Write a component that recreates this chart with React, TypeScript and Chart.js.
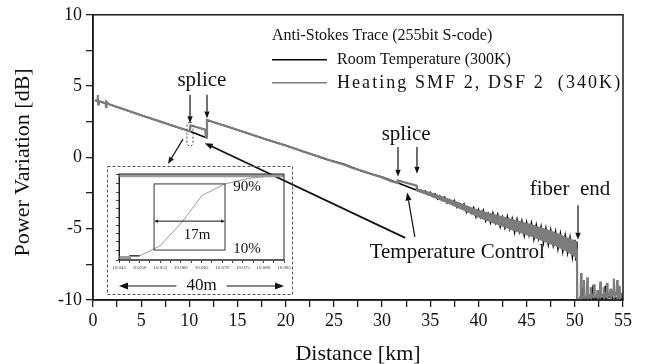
import React, { useEffect, useRef } from "react";
import { Chart, registerables } from "chart.js";

Chart.register(...registerables);

const SERIF = '"Liberation Serif", "Times New Roman", "DejaVu Serif", serif';

// ---------------- data ----------------
const legendTitle = "Anti-Stokes Trace (255bit S-code)";
const roomLabel = "Room Temperature (300K)";
const heatLabel = "Heating SMF 2, DSF 2  (340K)";

// Heating SMF 2, DSF 2 (340K): [distance km, power dB]
const heatTrace: [number, number][] = [
  [0.2, 4.0], [0.45, 3.98], [0.5, 4.38], [0.53, 3.72], [0.6, 3.95], [1.0, 3.86], [1.3, 3.8], [1.35, 3.52],
  [1.4, 3.9], [1.6, 3.74], [3, 3.42], [5, 2.96], [7, 2.51], [9, 2.06], [10.06, 1.83], [10.1, 2.25],
  [11.65, 1.95], [11.7, 1.45], [11.8, 1.4], [11.83, 2.62], [14, 2.15], [16, 1.7], [18, 1.25], [20, 0.83],
  [22, 0.37], [24, -0.06], [25, -0.3], [26, -0.5], [27, -0.76], [28, -0.95], [29, -1.2], [30, -1.4],
  [31, -1.68], [31.6, -1.78], [31.63, -1.62], [33.58, -1.98], [33.62, -2.3],
  [38, -3.38], [42, -4.39], [46, -5.25], [50.22, -6.5], [50.25, -10],
  [50.6, -9.9], [50.65, -8.1], [50.7, -9.9], [50.9, -9.8], [50.95, -8.6], [51.0, -9.85], [51.25, -9.8],
  [51.3, -8.4], [51.35, -9.9], [51.6, -9.7], [51.65, -9.1], [51.7, -9.9], [51.95, -9.6], [52.0, -8.9],
  [52.05, -9.8], [52.3, -9.7], [52.35, -9.3], [52.4, -9.9], [52.6, -9.5], [52.65, -8.7], [52.7, -9.8],
  [52.95, -9.6], [53.0, -9.1], [53.05, -9.9], [53.3, -9.4], [53.35, -8.8], [53.4, -9.8], [53.65, -9.5],
  [53.7, -9.2], [53.75, -9.9], [54.0, -9.3], [54.05, -8.5], [54.1, -9.8], [54.35, -9.4], [54.4, -8.6],
  [54.45, -9.85], [54.6, -9.5], [54.65, -9.0], [54.7, -9.9], [54.9, -9.6], [55, -9.9],
];

// noise spread of the heating trace beyond 34 km: upper / lower edge
const heatBandKm = [
  33.62, 34.0, 34.5, 35.0, 35.5, 36.0, 36.5, 37.0, 37.5, 38.0, 38.5, 39.0, 39.5, 40.0, 40.5, 41.0, 41.5, 42.0,
  42.5, 43.0, 43.5, 44.0, 44.5, 45.0, 45.5, 46.0, 46.5, 47.0, 47.5, 48.0, 48.5, 49.0, 49.5, 50.0, 50.22,
];
const heatBandUpper = [
  -2.22, -2.26, -2.36, -2.47, -2.57, -2.7, -2.81, -2.95, -3.05, -3.2, -3.32, -3.47, -3.58, -3.7, -3.79, -3.91,
  -3.98, -4.08, -4.15, -4.28, -4.34, -4.45, -4.53, -4.63, -4.7, -4.85, -4.93, -5.06, -5.15, -5.3, -5.42, -5.6,
  -5.7, -5.86, -5.95,
];
const heatBandLower = [
  -2.38, -2.43, -2.56, -2.69, -2.83, -2.98, -3.11, -3.25, -3.41, -3.57, -3.71, -3.87, -4.03, -4.2, -4.33, -4.45,
  -4.59, -4.7, -4.83, -4.95, -5.09, -5.2, -5.31, -5.43, -5.53, -5.67, -5.8, -5.93, -6.07, -6.2, -6.37, -6.52,
  -6.73, -6.95, -7.12,
];

// Room Temperature (300K): [distance km, power dB]
const roomTrace: [number, number][] = [
  [0.2, 4.0], [0.5, 3.95], [1.4, 3.78], [3, 3.42], [5, 2.96], [7, 2.51], [9, 2.06], [10.06, 1.83],
  [11.76, 1.38], [11.8, 2.62], [14, 2.15], [16, 1.7], [18, 1.25], [20, 0.83], [22, 0.37], [24, -0.1],
  [26, -0.46], [28, -0.99], [30, -1.37], [31.6, -1.78], [33.6, -2.3],
  [34.0, -2.3], [34.25, -2.45], [34.5, -2.36], [34.75, -2.6], [35.0, -2.44], [35.25, -2.72], [35.5, -2.55],
  [35.75, -2.93], [36.0, -2.72], [36.25, -3.02], [36.5, -2.78], [36.75, -3.2], [37.0, -2.98], [37.25, -3.28],
  [37.5, -3.02], [37.75, -3.5], [38.0, -3.25], [38.25, -3.58], [38.5, -3.27], [38.75, -3.85], [39.0, -3.5],
  [39.25, -3.9], [39.5, -3.52], [39.75, -4.18], [40.0, -3.66], [40.25, -4.2], [40.5, -3.72], [40.75, -4.46],
  [41.0, -3.95], [41.25, -4.58], [41.5, -3.9], [41.75, -4.6], [42.0, -4.0], [42.25, -4.85], [42.5, -4.2],
  [42.75, -4.95], [43.0, -4.15], [43.25, -5.0], [43.5, -4.3], [43.75, -5.25], [44.0, -4.35], [44.25, -5.2],
  [44.5, -4.45], [44.75, -5.48], [45.0, -4.55], [45.25, -5.45], [45.5, -4.6], [45.75, -5.72], [46.0, -4.75],
  [46.25, -5.7], [46.5, -4.85], [46.75, -6.0], [47.0, -4.98], [47.25, -6.1], [47.5, -5.08], [47.75, -6.15],
  [48.0, -5.2], [48.25, -6.42], [48.5, -5.35], [48.75, -6.6], [49.0, -5.48], [49.25, -6.7], [49.5, -5.62],
  [49.75, -7.0], [50.0, -5.78], [50.12, -7.25], [50.22, -5.9], [50.25, -10],
  [50.5, -9.95], [50.8, -9.3], [50.85, -9.95], [51.5, -9.9], [51.8, -9.2], [51.85, -9.95], [52.5, -9.8],
  [52.55, -9.4], [52.6, -9.95], [53.1, -9.8], [53.15, -9.0], [53.2, -9.95], [53.8, -9.7], [53.85, -9.3],
  [53.9, -9.95], [54.5, -9.8], [54.55, -9.4], [54.6, -9.95], [55, -9.9],
];

// inset: zoom of the first splice (distance km, normalised level %)
const insetDistKm = [10.05, 10.0549, 10.0603, 10.0651, 10.0707, 10.0768, 10.0828, 10.085];
const insetHeatPct = [3, 15, 44, 76, 90, 97, 100, 100];
const insetLowDistKm = [10.045, 10.048];
const insetLowPct = [1, 1];
const insetHighDistKm = [10.045, 10.085];
const insetHighPct = [100, 100];
const insetRoomDistKm = [10.0475, 10.05];
const insetRoomPct = [3, 3];

// ---------------- annotations (data units) ----------------
const spliceNotes = [
  { label: "splice", at: [11.3, 5.36], arrows: [[10.07, 4.4, 10.07, 2.39], [11.83, 4.4, 11.83, 2.73]] },
  { label: "splice", at: [32.5, 1.62], arrows: [[31.65, 0.73, 31.65, -1.35], [33.62, 0.73, 33.62, -1.14]] },
];
const fiberEndNote = { label: "fiber  end", at: [49.5, -2.25], arrow: [50.33, -3.36, 50.33, -5.78] };
const tempNote = {
  label: "Temperature Control",
  at: [37.8, -6.68],
  arrows: [[32.4, -5.64, 11.6, 1.0], [33.4, -5.57, 32.6, -2.46]],
};
const zoomMark = { x0: 9.75, x1: 10.38, y0: 2.46, y1: 0.8, arrow: [9.34, 1.28, 7.78, -0.46] };

const GRAY = "#7c7c7c";
const INK = "#111";

function arrow(ctx: CanvasRenderingContext2D, x1: number, y1: number, x2: number, y2: number, head = 7, w = 1.2) {
  const ang = Math.atan2(y2 - y1, x2 - x1);
  const bx = x2 - head * Math.cos(ang);
  const by = y2 - head * Math.sin(ang);
  const hw = head * 0.38;
  ctx.save();
  ctx.strokeStyle = INK;
  ctx.fillStyle = INK;
  ctx.lineWidth = w;
  ctx.beginPath();
  ctx.moveTo(x1, y1);
  ctx.lineTo(bx, by);
  ctx.stroke();
  ctx.beginPath();
  ctx.moveTo(x2, y2);
  ctx.lineTo(bx + hw * Math.sin(ang), by - hw * Math.cos(ang));
  ctx.lineTo(bx - hw * Math.sin(ang), by + hw * Math.cos(ang));
  ctx.closePath();
  ctx.fill();
  ctx.restore();
}

const mainDecor = {
  id: "mainDecor",
  afterDatasetsDraw(chart: any) {
    const { ctx, chartArea: ca } = chart;
    const xs = chart.scales.x;
    const ys = chart.scales.y;
    const X = (v: number) => xs.getPixelForValue(v);
    const Y = (v: number) => ys.getPixelForValue(v);
    ctx.save();
    // frame
    ctx.strokeStyle = "#1a1a1a";
    ctx.lineWidth = 1.5;
    ctx.strokeRect(ca.left, ca.top, ca.right - ca.left, ca.bottom - ca.top);

    // legend
    const lx = ca.left + 179;
    ctx.fillStyle = INK;
    ctx.textBaseline = "middle";
    ctx.textAlign = "left";
    ctx.font = `16px ${SERIF}`;
    ctx.fillText(legendTitle, lx, ca.top + 21);
    const rows = [
      { label: roomLabel, color: "#000", size: 16, spread: false },
      { label: heatLabel, color: GRAY, size: 18, spread: true },
    ];
    rows.forEach((r, i) => {
      const yy = ca.top + 45 + i * 23;
      ctx.strokeStyle = r.color;
      ctx.lineWidth = 1.5;
      ctx.beginPath();
      ctx.moveTo(lx, yy);
      ctx.lineTo(lx + 55, yy);
      ctx.stroke();
      ctx.fillStyle = INK;
      ctx.font = `${r.size}px ${SERIF}`;
      if (r.spread) {
        const natural = ctx.measureText(r.label).width;
        const room = ca.right - 3 - (lx + 65);
        const extra = Math.max(0, (room - natural) / (r.label.length - 1));
        (ctx as any).letterSpacing = `${extra.toFixed(2)}px`;
      }
      ctx.fillText(r.label, lx + 65, yy);
      (ctx as any).letterSpacing = "0px";
    });

    // annotations
    ctx.font = `21px ${SERIF}`;
    ctx.textAlign = "center";
    ctx.fillStyle = INK;
    spliceNotes.forEach((n) => {
      ctx.fillText(n.label, X(n.at[0]), Y(n.at[1]));
      n.arrows.forEach((a) => arrow(ctx, X(a[0]), Y(a[1]), X(a[2]), Y(a[3])));
    });
    ctx.fillText(fiberEndNote.label, X(fiberEndNote.at[0]), Y(fiberEndNote.at[1]));
    const fa = fiberEndNote.arrow;
    arrow(ctx, X(fa[0]), Y(fa[1]), X(fa[2]), Y(fa[3]));
    ctx.fillText(tempNote.label, X(tempNote.at[0]), Y(tempNote.at[1]));
    tempNote.arrows.forEach((a, i) => arrow(ctx, X(a[0]), Y(a[1]), X(a[2]), Y(a[3]), 8, i === 0 ? 1.8 : 1.2));

    // dashed mark around first splice + arrow to inset
    ctx.save();
    ctx.setLineDash([2, 2]);
    ctx.strokeStyle = "#444";
    ctx.lineWidth = 1;
    ctx.beginPath();
    const rx = X(zoomMark.x0), ry = Y(zoomMark.y0);
    (ctx as any).roundRect(rx, ry, X(zoomMark.x1) - rx, Y(zoomMark.y1) - ry, 3);
    ctx.stroke();
    ctx.restore();
    const za = zoomMark.arrow;
    arrow(ctx, X(za[0]), Y(za[1]), X(za[2]), Y(za[3]));

    // axis titles
    ctx.font = `22px ${SERIF}`;
    ctx.textAlign = "center";
    ctx.fillStyle = INK;
    ctx.fillText("Distance [km]", (ca.left + ca.right) / 2, ca.bottom + 54);
    ctx.save();
    ctx.translate(ca.left - 70, (ca.top + ca.bottom) / 2 + 5);
    ctx.rotate(-Math.PI / 2);
    ctx.fillText("Power Variation [dB]", 0, 0);
    ctx.restore();
    ctx.restore();
  },
};

const insetDecor = {
  id: "insetDecor",
  afterDatasetsDraw(chart: any) {
    const { ctx, chartArea: ca, width, height } = chart;
    const xs = chart.scales.x;
    const ys = chart.scales.y;
    const X = (v: number) => xs.getPixelForValue(v);
    const Y = (v: number) => ys.getPixelForValue(v);
    ctx.save();
    ctx.setLineDash([3, 2]);
    ctx.strokeStyle = "#555";
    ctx.lineWidth = 1;
    ctx.strokeRect(0.5, 0.5, width - 1, height - 1);
    ctx.setLineDash([]);
    ctx.strokeStyle = "#222";
    ctx.lineWidth = 1;
    ctx.strokeRect(ca.left, ca.top, ca.right - ca.left, ca.bottom - ca.top);
    const bx0 = X(10.0535), bx1 = X(10.0707);
    const by0 = Y(90), by1 = Y(10);
    ctx.strokeStyle = "#333";
    ctx.strokeRect(bx0, by0, bx1 - bx0, by1 - by0);
    const my = Y(45);
    arrow(ctx, (bx0 + bx1) / 2, my, bx0, my, 4, 1);
    arrow(ctx, (bx0 + bx1) / 2, my, bx1, my, 4, 1);
    ctx.fillStyle = INK;
    ctx.textBaseline = "middle";
    ctx.font = `15px ${SERIF}`;
    ctx.textAlign = "center";
    ctx.fillText("17m", X(10.0639), Y(28));
    ctx.textAlign = "left";
    ctx.fillText("90%", X(10.0727), Y(86));
    ctx.fillText("10%", X(10.0727), Y(11));
    const ay = ca.bottom + 26;
    const cx = (X(10.045) + X(10.085)) / 2;
    arrow(ctx, cx - 25, ay, X(10.045), ay, 9, 1);
    arrow(ctx, cx + 25, ay, X(10.085), ay, 9, 1);
    ctx.font = `17px ${SERIF}`;
    ctx.textAlign = "center";
    ctx.fillText("40m", cx, ay);
    ctx.restore();
  },
};

const pairs = (xs: number[], ys: number[]) => xs.map((x, i) => ({ x, y: ys[i] }));
const line = (data: any[], color: string, width: number, extra: any = {}) => ({
  data,
  borderColor: color,
  backgroundColor: color,
  borderWidth: width,
  pointRadius: 0,
  tension: 0,
  fill: false,
  ...extra,
});

export default function App() {
  const mainRef = useRef<HTMLCanvasElement>(null);
  const insetRef = useRef<HTMLCanvasElement>(null);

  useEffect(() => {
    document.body.style.margin = "0";
    Chart.defaults.font.family = SERIF;
    const main = new Chart(mainRef.current!, {
      type: "line",
      data: {
        datasets: [
          line(pairs(heatBandKm, heatBandUpper), GRAY, 1, { label: heatLabel + " upper", fill: "+1" }),
          line(pairs(heatBandKm, heatBandLower), GRAY, 1, { label: heatLabel + " lower" }),
          line(heatTrace.map(([x, y]) => ({ x, y })), GRAY, 2.2, { label: heatLabel }),
          line(roomTrace.map(([x, y]) => ({ x, y })), "#000", 1.5, { label: roomLabel }),
        ] as any,
      },
      options: {
        responsive: false,
        animation: false,
        devicePixelRatio: 1,
        events: [],
        layout: { padding: { top: 12, right: 30, left: 0, bottom: 0 } },
        plugins: { legend: { display: false }, tooltip: { enabled: false } },
        scales: {
          x: {
            type: "linear",
            min: 0,
            max: 55,
            ticks: {
              stepSize: 2.5,
              autoSkip: false,
              maxRotation: 0,
              padding: 3,
              color: INK,
              font: { size: 18, family: SERIF },
              callback: (v: any, i: number) => (i % 2 === 0 ? String(v) : ""),
            },
            grid: { drawOnChartArea: false, tickLength: 7, color: "#222", lineWidth: 1.3 },
            border: { color: "#1a1a1a", width: 1.5 },
            afterFit: (s: any) => {
              s.height = 64;
            },
          },
          y: {
            min: -10,
            max: 10,
            ticks: {
              stepSize: 2.5,
              autoSkip: false,
              padding: 4,
              color: INK,
              font: { size: 18, family: SERIF },
              callback: (v: any, i: number) => (i % 2 === 0 ? String(v) : ""),
            },
            grid: { drawOnChartArea: false, tickLength: 7, color: "#222", lineWidth: 1.3 },
            border: { color: "#1a1a1a", width: 1.5 },
            afterFit: (s: any) => {
              s.width = 93;
            },
          },
        },
      },
      plugins: [mainDecor],
    });

    const inset = new Chart(insetRef.current!, {
      type: "line",
      data: {
        datasets: [
          line(pairs(insetHighDistKm, insetHighPct), "#999", 3, { label: "upper level" }),
          line(pairs(insetLowDistKm, insetLowPct), "#999", 3, { label: "lower level" }),
          line(pairs(insetRoomDistKm, insetRoomPct), "#000", 1.2, { label: "room" }),
          line(pairs(insetDistKm, insetHeatPct), "#999", 1, { label: "heating" }),
        ] as any,
      },
      options: {
        responsive: false,
        animation: false,
        devicePixelRatio: 1,
        events: [],
        layout: { padding: { top: 8, right: 9, left: 0, bottom: 0 } },
        plugins: { legend: { display: false }, tooltip: { enabled: false } },
        scales: {
          x: {
            type: "linear",
            min: 10.045,
            max: 10.085,
            ticks: {
              stepSize: 0.0025,
              autoSkip: false,
              maxRotation: 0,
              padding: 2,
              color: "#333",
              font: { size: 5, family: SERIF },
              callback: (v: any, i: number) => (i % 2 === 0 ? Number(v).toFixed(3) : ""),
            },
            grid: { drawOnChartArea: false, tickLength: 3, color: "#444" },
            border: { color: "#999", width: 2 },
            afterFit: (s: any) => {
              s.height = 35;
            },
          },
          y: {
            min: -2,
            max: 102,
            ticks: { stepSize: 10, autoSkip: false, callback: () => "", padding: 0 },
            grid: { drawOnChartArea: false, tickLength: 3, color: "#444" },
            border: { color: "#222", width: 1 },
            afterFit: (s: any) => {
              s.width = 12;
            },
          },
        },
      },
      plugins: [insetDecor],
    });

    return () => {
      main.destroy();
      inset.destroy();
    };
  }, []);

  return (
    <div style={{ position: "relative", width: 653, height: 364, background: "#fff" }}>
      <canvas ref={mainRef} width={653} height={364} style={{ position: "absolute", left: 0, top: 0 }} />
      <canvas ref={insetRef} width={186} height={129} style={{ position: "absolute", left: 107, top: 166 }} />
    </div>
  );
}
